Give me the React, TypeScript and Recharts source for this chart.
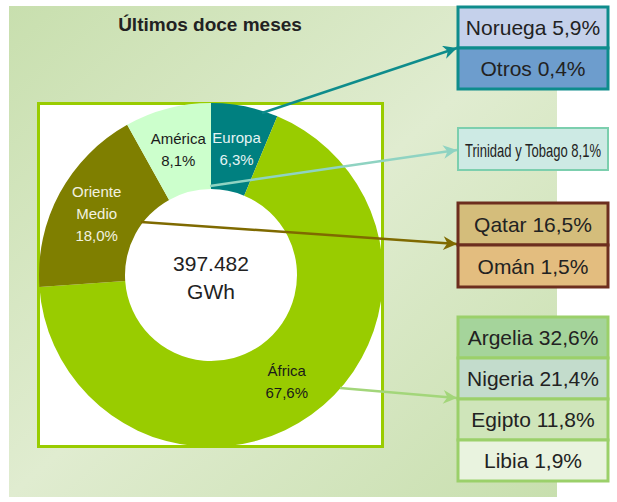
import { PieChart, Pie, Cell } from 'recharts';

// regions (donut)
const regions = ['Europa', 'África', 'Oriente Medio', 'América'];
const regionShares = [6.3, 67.6, 18.0, 8.1];
const regionColors = ['#008080', '#99cc00', '#7f7f00', '#ccffcc'];
const regionTextColors = ['#e6f4f4', '#1a1a1a', '#f2f2e0', '#1a1a1a'];

// country breakdown per region
const europeCountries = ['Noruega', 'Otros'];
const europeShares = [5.9, 0.4];
const americaCountries = ['Trinidad y Tobago'];
const americaShares = [8.1];
const middleEastCountries = ['Qatar', 'Omán'];
const middleEastShares = [16.5, 1.5];
const africaCountries = ['Argelia', 'Nigeria', 'Egipto', 'Libia'];
const africaShares = [32.6, 21.4, 11.8, 1.9];

const totalLabel = ['397.482', 'GWh'];
const title = 'Últimos doce meses';

const pct = (v: number) => v.toFixed(1).replace('.', ',') + '%';

const data = regions.map((name, i) => ({ name, value: regionShares[i] }));

const CX = 211;
const CY = 275;
const RAD = Math.PI / 180;
const FONT = '"Liberation Sans", Arial, sans-serif';

const renderLabel = (props: any) => {
  const { cx, cy, midAngle, index } = props;
  const r = 130;
  const x = cx + r * Math.cos(-midAngle * RAD);
  const y = cy + r * Math.sin(-midAngle * RAD);
  const lines =
    index === 2 ? ['Oriente', 'Medio', pct(regionShares[index])] : [regions[index], pct(regionShares[index])];
  const lh = 22;
  const y0 = y - ((lines.length - 1) * lh) / 2;
  return (
    <text
      key={'lbl' + index}
      x={x}
      y={y0}
      textAnchor="middle"
      dominantBaseline="central"
      fontFamily={FONT}
      fontSize={15}
      fill={regionTextColors[index]}
    >
      {lines.map((l, j) => (
        <tspan key={j} x={x} y={y0 + j * lh}>
          {l}
        </tspan>
      ))}
    </text>
  );
};

type Group = {
  names: string[];
  shares: number[];
  fills: string[];
  border: string;
  borderWidth: number;
  top: number;
  rowH: number;
  fontSize: number;
  condensed?: boolean;
};

const groups: Group[] = [
  { names: europeCountries, shares: europeShares, fills: ['#c5d1eb', '#6d9dcd'], border: '#0e8c8c', borderWidth: 3, top: 7, rowH: 41, fontSize: 21 },
  { names: americaCountries, shares: americaShares, fills: ['#cdeae4'], border: '#7ccfae', borderWidth: 2, top: 128, rowH: 42, fontSize: 14, condensed: true },
  { names: middleEastCountries, shares: middleEastShares, fills: ['#d4bd7b', '#e3bd7f'], border: '#6d2e1e', borderWidth: 3, top: 203, rowH: 42, fontSize: 21 },
  { names: africaCountries, shares: africaShares, fills: ['#a5d49b', '#c3dccc', '#cfe5ba', '#e9f3df'], border: '#9bd06a', borderWidth: 3, top: 317, rowH: 41, fontSize: 21 },
];

const BOX_X = 458;
const BOX_W = 150;

// callout arrows from the donut to the country boxes
const arrows = [
  { x1: 262, y1: 113, x2: 457, y2: 48, color: '#0e8c8c', w: 2.5, id: 'a0' },
  { x1: 210, y1: 186, x2: 457, y2: 150, color: '#8fd3c2', w: 2.5, id: 'a1' },
  { x1: 141, y1: 222, x2: 457, y2: 244, color: '#7f6a00', w: 2.5, id: 'a2' },
  { x1: 340, y1: 388, x2: 457, y2: 398, color: '#a3d67a', w: 2.5, id: 'a3' },
];

export default function App() {
  return (
    <div style={{ position: 'absolute', left: 0, top: 0, width: 617, height: 502, background: '#fff' }}>
      <svg width={617} height={502} style={{ position: 'absolute', left: 0, top: 0 }}>
        <defs>
          <linearGradient id="bg" x1="0" y1="0" x2="1" y2="1">
            <stop offset="0" stopColor="#c8dfae" />
            <stop offset="0.5" stopColor="#e0ecd0" />
            <stop offset="1" stopColor="#c8dfae" />
          </linearGradient>
        </defs>
        <rect x={9} y={6} width={548} height={491} fill="url(#bg)" />
        <rect x={38.5} y={103.5} width={344} height={343} fill="#fff" stroke="#99cc00" strokeWidth={3} />
      </svg>

      <div style={{ position: 'absolute', left: 0, top: 0 }}>
        <PieChart width={617} height={502} margin={{ top: 0, right: 0, bottom: 0, left: 0 }}>
          <Pie
            data={data}
            dataKey="value"
            nameKey="name"
            cx={CX}
            cy={CY}
            innerRadius={86}
            outerRadius={172}
            startAngle={90}
            endAngle={-270}
            stroke="none"
            label={renderLabel}
            labelLine={false}
            isAnimationActive={false}
          >
            {data.map((d, i) => (
              <Cell key={d.name} fill={regionColors[i]} />
            ))}
          </Pie>
        </PieChart>
      </div>

      <svg width={617} height={502} style={{ position: 'absolute', left: 0, top: 0, pointerEvents: 'none' }}>
        <defs>
          {arrows.map((a) => (
            <marker
              key={a.id}
              id={a.id}
              viewBox="0 0 10 10"
              refX={10}
              refY={5}
              markerWidth={8}
              markerHeight={5.5}
              orient="auto"
              markerUnits="strokeWidth"
            >
              <path d="M0,0 L10,5 L0,10 L3,5 Z" fill={a.color} />
            </marker>
          ))}
        </defs>

        <text x={210} y={31} textAnchor="middle" fontFamily={FONT} fontWeight="bold" fontSize={19} fill="#222">
          {title}
        </text>

        {totalLabel.map((t, i) => (
          <text key={t} x={CX} y={271 + i * 28} textAnchor="middle" fontFamily={FONT} fontSize={21} fill="#222">
            {t}
          </text>
        ))}

        {arrows.map((a) => (
          <line key={a.id} x1={a.x1} y1={a.y1} x2={a.x2} y2={a.y2} stroke={a.color} strokeWidth={a.w} markerEnd={`url(#${a.id})`} />
        ))}

        {groups.map((g, gi) => (
          <g key={gi}>
            {g.names.map((n, i) => {
              const mx = BOX_X + BOX_W / 2;
              const my = g.top + i * g.rowH + g.rowH / 2;
              return (
                <g key={n}>
                  <rect x={BOX_X} y={g.top + i * g.rowH} width={BOX_W} height={g.rowH} fill={g.fills[i]} stroke={g.border} strokeWidth={g.borderWidth} />
                  <text
                    x={mx}
                    y={my + (g.condensed ? 17 : g.fontSize) * 0.36}
                    textAnchor="middle"
                    fontFamily={FONT}
                    fontSize={g.fontSize}
                    fill="#222"
                    transform={
                      g.condensed
                        ? `translate(${mx},${my}) scale(0.93,1.25) translate(${-mx},${-my})`
                        : undefined
                    }
                  >
                    {n + ' ' + pct(g.shares[i])}
                  </text>
                </g>
              );
            })}
          </g>
        ))}
      </svg>
    </div>
  );
}
